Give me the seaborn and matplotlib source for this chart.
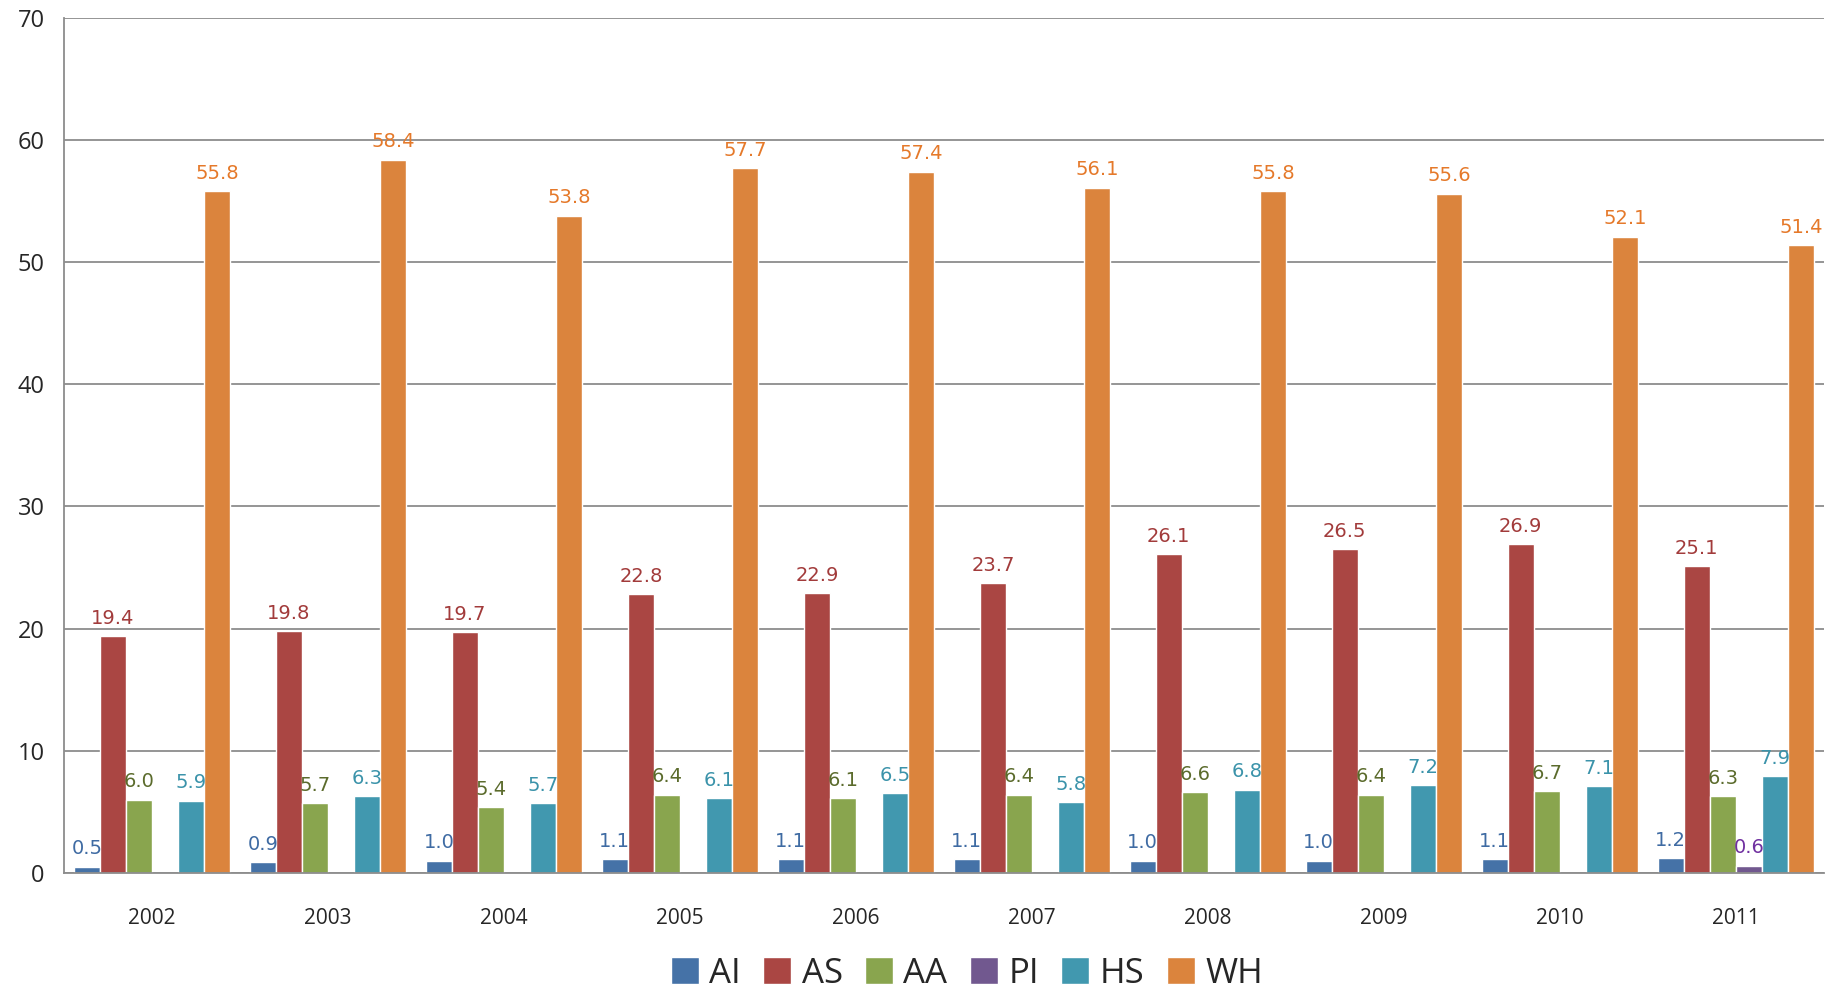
import pandas as pd
import matplotlib
matplotlib.use('Agg')
import matplotlib.pyplot as plt
import seaborn as sns

years = ['2002', '2003', '2004', '2005', '2006', '2007', '2008', '2009', '2010', '2011']
AI = [0.5, 0.9, 1.0, 1.1, 1.1, 1.1, 1.0, 1.0, 1.1, 1.2]
AS = [19.4, 19.8, 19.7, 22.8, 22.9, 23.7, 26.1, 26.5, 26.9, 25.1]
AA = [6.0, 5.7, 5.4, 6.4, 6.1, 6.4, 6.6, 6.4, 6.7, 6.3]
PI = [0, 0, 0, 0, 0, 0, 0, 0, 0, 0.6]
HS = [5.9, 6.3, 5.7, 6.1, 6.5, 5.8, 6.8, 7.2, 7.1, 7.9]
WH = [55.8, 58.4, 53.8, 57.7, 57.4, 56.1, 55.8, 55.6, 52.1, 51.4]

groups = ['AI', 'AS', 'AA', 'PI', 'HS', 'WH']
bar_colors = ['#4572A7', '#AA4643', '#89A54E', '#71588F', '#4198AF', '#DB843D']
label_colors = ['#3F6BA3', '#A23B3B', '#5B6B2C', '#7030A0', '#3B93AA', '#E5792A']

series = dict(zip(groups, [AI, AS, AA, PI, HS, WH]))
rows = []
for g in groups:
    for y, v in zip(years, series[g]):
        rows.append({'year': y, 'group': g, 'value': v})
df = pd.DataFrame(rows)

sns.set_style('white')
plt.rcParams['font.family'] = ['Open Sans', 'DejaVu Sans']

fig = plt.figure(figsize=(18.33, 9.93), dpi=100)
ax = fig.add_axes([0.035, 0.121, 0.96, 0.861])

sns.barplot(data=df, x='year', y='value', hue='group', hue_order=groups,
            palette=bar_colors, width=0.89, ax=ax, legend=True, saturation=1)

# value labels above bars, coloured per series
for cont, g, lc in zip(ax.containers, groups, label_colors):
    labels = ['' if v == 0 else f'{v:.1f}' for v in series[g]]
    ax.bar_label(cont, labels=labels, padding=6, color=lc, fontsize=14,
                 family=['Liberation Sans Narrow', 'DejaVu Sans'])

ax.set_ylim(0, 70)
ax.set_yticks(range(0, 71, 10))
ax.set_xlim(-0.5, 9.5)
ax.yaxis.grid(True, color='#8c8c8c', linewidth=1.3)
ax.set_axisbelow(True)
for s in ['top', 'right']:
    ax.spines[s].set_visible(False)
for s in ['left', 'bottom']:
    ax.spines[s].set_color('#8c8c8c')
    ax.spines[s].set_linewidth(1.3)
ax.set_xlabel('')
ax.set_ylabel('')
ax.tick_params(axis='y', labelsize=17, pad=14, length=0)
ax.tick_params(axis='x', labelsize=15, pad=25, length=0)

handles, lbls = ax.get_legend_handles_labels()
ax.legend(handles, lbls, loc='center', bbox_to_anchor=(0.513, -0.118),
          ncol=6, frameon=False, fontsize=25, handlelength=0.8, handleheight=0.8,
          handletextpad=0.3, columnspacing=0.65, borderpad=0.1)

fig.savefig('out.png', dpi=100)
